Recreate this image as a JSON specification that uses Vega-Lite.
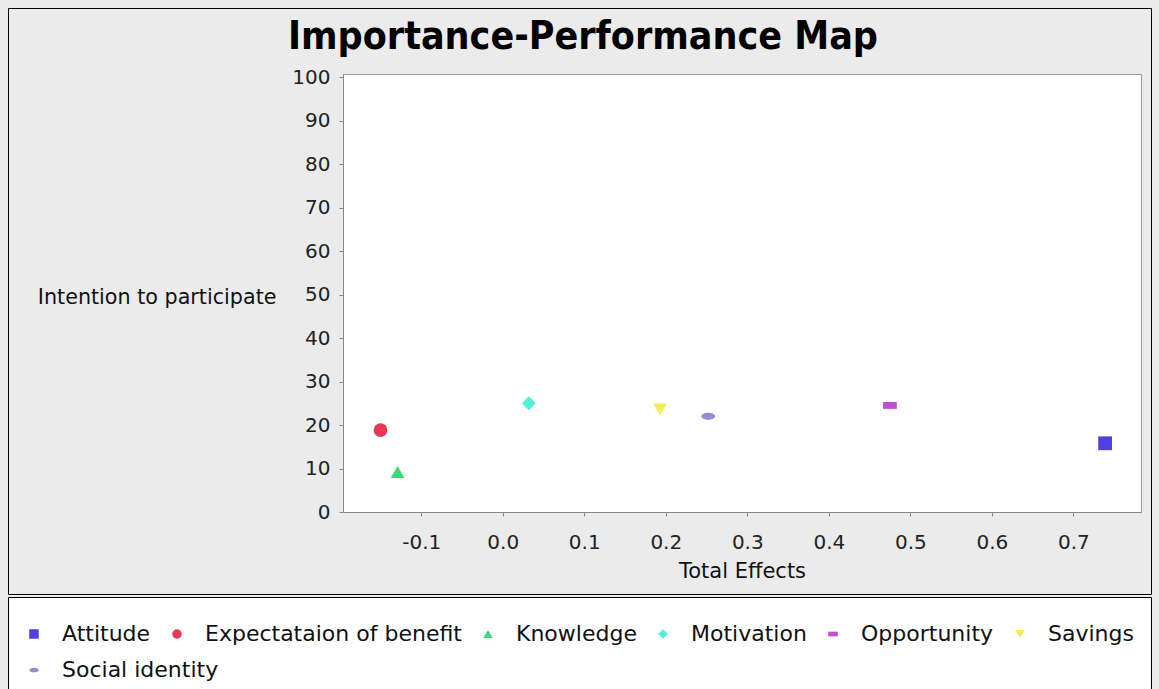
{
  "$schema": "https://vega.github.io/schema/vega-lite/v6.json",
  "width": 798,
  "height": 438,
  "autosize": {"type": "none"},
  "padding": {"left": 343, "top": 74, "right": 18, "bottom": 177},
  "background": "#EBEBEB",
  "title": {
    "text": "Importance-Performance Map",
    "font": "DejaVu Sans Condensed",
    "fontSize": 39,
    "fontWeight": "bold",
    "color": "#000000",
    "anchor": "middle",
    "frame": "group",
    "dx": -159,
    "offset": -49
  },
  "config": {
    "view": {"fill": "#FFFFFF", "stroke": "#9A9A9A", "strokeWidth": 1},
    "font": "DejaVu Sans"
  },
  "data": {
    "values": [
      {"construct": "Attitude", "effect": 0.739, "performance": 15.8},
      {"construct": "Expectataion of benefit", "effect": -0.150, "performance": 18.8},
      {"construct": "Knowledge", "effect": -0.129, "performance": 9.2},
      {"construct": "Motivation", "effect": 0.032, "performance": 25.0},
      {"construct": "Opportunity", "effect": 0.475, "performance": 24.5},
      {"construct": "Savings", "effect": 0.193, "performance": 23.6},
      {"construct": "Social identity", "effect": 0.252, "performance": 22.0}
    ]
  },
  "encoding": {
    "x": {
      "field": "effect",
      "type": "quantitative",
      "scale": {"domain": [-0.196, 0.783], "nice": false, "zero": false},
      "axis": {
        "title": "Total Effects",
        "values": [-0.1, 0, 0.1, 0.2, 0.3, 0.4, 0.5, 0.6, 0.7],
        "labelExpr": "replace(format(datum.value, '.1f'), '\u2212', '-')",
        "grid": false,
        "domainColor": "#888888",
        "tickColor": "#888888",
        "tickSize": 4,
        "labelFont": "DejaVu Sans",
        "labelFontSize": 20,
        "labelColor": "#222222",
        "labelPadding": 16,
        "titleFont": "DejaVu Sans",
        "titleFontSize": 21,
        "titleFontWeight": "normal",
        "titleColor": "#111111",
        "titlePadding": 8
      }
    },
    "y": {
      "field": "performance",
      "type": "quantitative",
      "scale": {"domain": [0, 100.7], "nice": false},
      "axis": {
        "title": "Intention to participate",
        "values": [0, 10, 20, 30, 40, 50, 60, 70, 80, 90, 100],
        "grid": false,
        "domainColor": "#888888",
        "tickColor": "#888888",
        "tickSize": 4,
        "labelFont": "DejaVu Sans",
        "labelFontSize": 20,
        "labelColor": "#222222",
        "labelPadding": 9,
        "titleFont": "DejaVu Sans",
        "titleFontSize": 20.7,
        "titleFontWeight": "normal",
        "titleColor": "#111111",
        "titleAngle": 0,
        "titleAlign": "right",
        "titleBaseline": "middle",
        "titleX": -67,
        "titleY": 223
      }
    }
  },
  "layer": [
    {
      "transform": [{"filter": "datum.construct === 'Social identity'"}],
      "mark": {"type": "point", "filled": true, "opacity": 0, "size": 10},
      "encoding": {
        "color": {
          "field": "construct",
          "type": "nominal",
          "scale": {"domain": ["Social identity"], "range": ["transparent"]},
          "legend": {
            "title": null,
            "orient": "none",
            "legendX": -335,
            "legendY": 523,
            "labelExpr": "''",
            "labelFontSize": 1,
            "labelOffset": 0,
            "symbolType": "M-1,-0.005H1V0.005H-1Z",
            "symbolSize": 1113025,
            "symbolOpacity": 0,
            "symbolStrokeWidth": 0,
            "clipHeight": 10,
            "padding": 44,
            "fillColor": "#FFFFFF",
            "strokeColor": "#000000"
          }
        }
      }
    },
    {
      "transform": [{"filter": "datum.construct === 'Social identity'"}],
      "mark": {"type": "point", "filled": true, "opacity": 1, "size": 190},
      "encoding": {
        "color": {
          "field": "construct",
          "type": "nominal",
          "scale": {"domain": ["Social identity"], "range": ["#9090D0"]},
          "legend": {
            "title": null,
            "orient": "none",
            "legendX": -320,
            "legendY": 585,
            "labelFont": "DejaVu Sans",
            "labelFontSize": 22,
            "labelColor": "#111111",
            "labelOffset": 17,
            "labelLimit": 500,
            "symbolSize": 90,
            "padding": 0
          }
        },
        "shape": {
          "field": "construct",
          "type": "nominal",
          "scale": {"domain": ["Social identity"], "range": ["M-1,0A1,0.5 0 1,0 1,0A1,0.5 0 1,0 -1,0Z"]}
        }
      }
    },
    {
      "transform": [{"filter": "datum.construct !== 'Social identity'"}],
      "mark": {"type": "point", "filled": true, "opacity": 1, "size": 190},
      "encoding": {
        "color": {
          "field": "construct",
          "type": "nominal",
          "scale": {
            "domain": ["Attitude", "Expectataion of benefit", "Knowledge", "Motivation", "Opportunity", "Savings"],
            "range": ["#5040E0", "#E83858", "#40D878", "#50F0D8", "#C050D0", "#F0F050"]
          },
          "legend": {
            "title": null,
            "orient": "none",
            "legendX": -320,
            "legendY": 549,
            "direction": "horizontal",
            "labelFont": "DejaVu Sans",
            "labelFontSize": 22,
            "labelColor": "#111111",
            "labelOffset": 17,
            "labelLimit": 500,
            "symbolSize": 90,
            "columnPadding": 15,
            "padding": 0
          }
        },
        "shape": {
          "field": "construct",
          "type": "nominal",
          "scale": {
            "domain": ["Attitude", "Expectataion of benefit", "Knowledge", "Motivation", "Opportunity", "Savings"],
            "range": ["square", "circle", "triangle-up", "diamond", "M-1,-0.5H1V0.5H-1Z", "triangle-down"]
          }
        }
      }
    },
    {
      "transform": [{"filter": "datum.construct === 'Social identity'"}],
      "mark": {"type": "point", "filled": true, "opacity": 0, "size": 10},
      "encoding": {
        "color": {
          "field": "construct",
          "type": "nominal",
          "scale": {"domain": ["Social identity"], "range": ["transparent"]},
          "legend": {
            "title": null,
            "orient": "none",
            "legendX": -335,
            "legendY": -66,
            "labelExpr": "''",
            "labelFontSize": 1,
            "labelOffset": 0,
            "symbolType": "M-1,-0.005H1V0.005H-1Z",
            "symbolSize": 321489,
            "symbolOpacity": 0,
            "symbolStrokeWidth": 0,
            "clipHeight": 10,
            "padding": 288,
            "strokeColor": "#000000"
          }
        }
      }
    }
  ],
  "resolve": {"scale": {"color": "independent", "shape": "independent"}}
}
